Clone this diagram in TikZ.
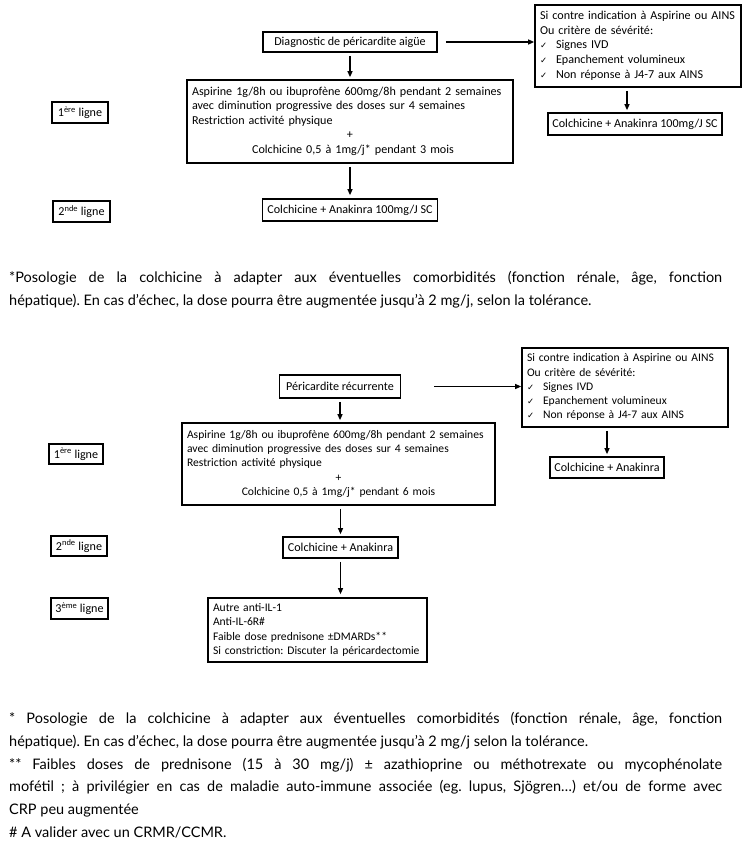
\documentclass[tikz,border=0pt]{standalone}
\usepackage{fontspec}
\setmainfont{Carlito}
\newfontfamily\notefont{Lato}
\newfontfamily\checkfont{DejaVu Sans}
\usetikzlibrary{arrows.meta}
\newcommand{\chk}{\makebox[16pt][l]{\checkfont\fontsize{8.5}{8.5}\selectfont ✓}}
\frenchspacing

\begin{document}
\begin{tikzpicture}[
    x=1pt, y=-1pt,
    stepbox/.style={
      draw=black, line width=1.7pt, inner sep=0pt,
      font=\fontsize{12.1}{14.5}\selectfont, align=center,
    },
    listbox/.style={stepbox, align=left, inner xsep=5pt},
    bigfont/.style={font=\fontsize{12.1}{14.75}\selectfont},
    smallfont/.style={font=\fontsize{11.6}{14.3}\selectfont},
    arr/.style={-{Triangle[length=6pt,width=5pt]}, line width=1.2pt},
    note/.style={
      anchor=north west, text width=713pt, align=justify, inner sep=0pt,
      font=\notefont\fontsize{14.5}{22.8}\selectfont,
    },
  ]
  \useasboundingbox[fill=white] (0,0) rectangle (748,848);

  % ===== pericardite aigue =====
  \node[stepbox, minimum width=174pt, minimum height=20pt] (diag) at (350,42) {Diagnostic de péricardite aigüe};
  \node[listbox, bigfont, text width=196pt, minimum height=82pt] (cont1) at (638,46) {%
    \begin{tabular}{@{}l@{}}
      Si contre indication à Aspirine ou AINS\\
      Ou critère de sévérité:\\
      \chk Signes IVD\\
      \chk Epanchement volumineux\\
      \chk Non réponse à J4-7 aux AINS
    \end{tabular}};
  \node[stepbox, minimum width=174pt, minimum height=22pt] (colR1) at (635,124) {Colchicine + Anakinra 100mg/J SC};
  \node[listbox, text width=316pt, minimum height=83pt] (big1) at (350,121.5) {%
    \begin{tabular}{@{}l@{}}
      Aspirine 1g/8h ou ibuprofène 600mg/8h pendant 2 semaines\\
      avec diminution progressive des doses sur 4 semaines\\
      Restriction activité physique\\
      \makebox[316pt]{+}\\
      \makebox[322pt]{Colchicine 0,5 à 1mg/j* pendant 3 mois}
    \end{tabular}};
  \node[stepbox, minimum width=175pt, minimum height=22pt] (colB1) at (350,210) {Colchicine + Anakinra 100mg/J SC};
  \node[stepbox, minimum width=56pt, minimum height=21pt] (lig1a) at (80,112.5) {1\textsuperscript{ère} ligne};
  \node[stepbox, minimum width=57pt, minimum height=21pt] (lig2a) at (81.5,211.5) {2\textsuperscript{nde} ligne};

  \draw[arr] ([xshift=8pt]diag.east) -- (diag.east -| cont1.west);
  \draw[arr] ([yshift=-3pt]diag.south) -- ([yshift=2pt]big1.north);
  \draw[arr] ([yshift=-3pt]big1.south) -- ([yshift=3pt]colB1.north);
  \draw[arr] ([xshift=-8pt,yshift=-3pt]colR1.north |- cont1.south) -- ([xshift=-8pt,yshift=2pt]colR1.north);

  \node[note] (fn1) at (9,271) {%
    *Posologie de la colchicine à adapter aux éventuelles comorbidités (fonction rénale, âge, fonction\linebreak
    hépatique). En cas d’échec, la dose pourra être augmentée jusqu’à 2 mg/j, selon la tolérance.};

  % ===== pericardite recurrente =====
  \node[stepbox, minimum width=121pt, minimum height=23pt] (peri) at (340,386.5) {Péricardite récurrente};
  \node[listbox, smallfont, text width=196pt, minimum height=79pt] (cont2) at (625,387.5) {%
    \begin{tabular}{@{}l@{}}
      Si contre indication à Aspirine ou AINS\\
      Ou critère de sévérité:\\
      \chk Signes IVD\\
      \chk Epanchement volumineux\\
      \chk Non réponse à J4-7 aux AINS
    \end{tabular}};
  \node[stepbox, minimum width=114pt, minimum height=21pt] (colR2) at (607,467.5) {Colchicine + Anakinra};
  \node[listbox, smallfont, text width=303pt, minimum height=82pt] (big2) at (338.5,464) {%
    \begin{tabular}{@{}l@{}}
      Aspirine 1g/8h ou ibuprofène 600mg/8h pendant 2 semaines\\
      avec diminution progressive des doses sur 4 semaines\\
      Restriction activité physique\\
      \makebox[303pt]{+}\\
      \makebox[303pt]{Colchicine 0,5 à 1mg/j* pendant 6 mois}
    \end{tabular}};
  \node[stepbox, minimum width=115pt, minimum height=21pt] (colB2) at (340.5,547.5) {Colchicine + Anakinra};
  \node[listbox, smallfont, text width=209pt, minimum height=64pt] (other) at (317.5,630) {%
    \begin{tabular}{@{}l@{}}
      Autre anti-IL-1\\
      Anti-IL-6R\#\\
      Faible dose prednisone ±DMARDs**\\
      Si constriction: Discuter la péricardectomie
    \end{tabular}};
  \node[stepbox, minimum width=54pt, minimum height=20pt] (lig1b) at (76,454) {1\textsuperscript{ère} ligne};
  \node[stepbox, minimum width=56pt, minimum height=20pt] (lig2b) at (79,546) {2\textsuperscript{nde} ligne};
  \node[stepbox, minimum width=57pt, minimum height=21pt] (lig3b) at (79.5,608.5) {3\textsuperscript{ème} ligne};

  \draw[arr] ([xshift=33pt]peri.east) -- (peri.east -| cont2.west);
  \draw[arr] ([yshift=-3pt]peri.south) -- ([yshift=2pt]big2.north -| peri.south);
  \draw[arr] ([yshift=-3pt]cont2.south -| colR2.north) -- ([yshift=2pt]colR2.north);
  \draw[arr] ([yshift=-3pt]big2.south -| colB2.north) -- ([yshift=2pt]colB2.north);
  \draw[arr] ([yshift=-3pt]colB2.south) -- ([yshift=3pt]other.north -| colB2.south);

  \node[note] (fn2) at (9,712) {%
    * Posologie de la colchicine à adapter aux éventuelles comorbidités (fonction rénale, âge, fonction\linebreak
    hépatique). En cas d’échec, la dose pourra être augmentée jusqu’à 2 mg/j selon la tolérance.\\
    {**} Faibles doses de prednisone (15 à 30 mg/j) ± azathioprine ou méthotrexate ou mycophénolate\linebreak
    mofétil ; à privilégier en cas de maladie auto-immune associée (eg. lupus, Sjögren…) et/ou de forme avec\linebreak
    CRP peu augmentée\\
    \# A valider avec un CRMR/CCMR.};
\end{tikzpicture}
\end{document}
